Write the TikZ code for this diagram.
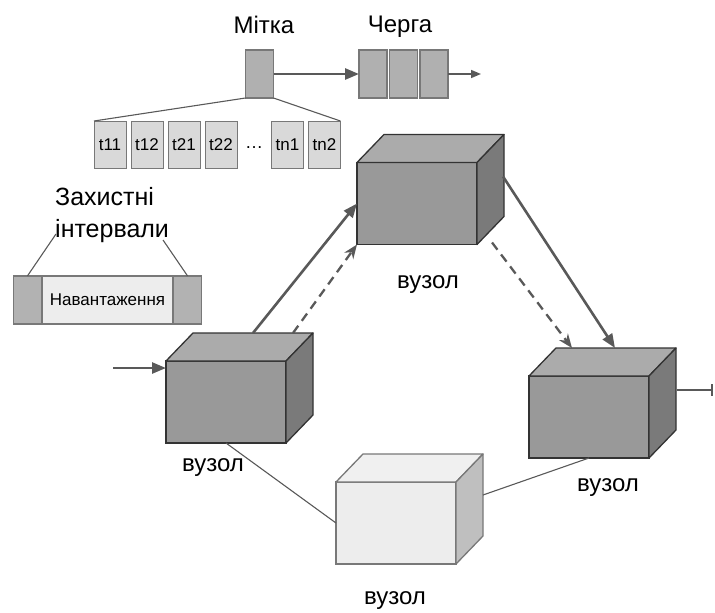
\documentclass[tikz,border=0pt]{standalone}
\usepackage{fontspec}
\setmainfont{Liberation Sans}
\usetikzlibrary{positioning,calc,arrows.meta}

% top and side faces of a box whose front face is the node #1
\newcommand{\boxfaces}[4]{%
  \draw[draw=#4, line width=1.3pt, line join=round, fill=#2] (#1.north west) -- ++(27,-28) -- ++(120,0) -- (#1.north east) -- cycle;
  \draw[draw=#4, line width=1.3pt, line join=round, fill=#3] (#1.north east) -- ++(27,-28) -- ++(0,82) -- (#1.south east) -- cycle;
}

\begin{document}
\begin{tikzpicture}[x=1pt, y=-1pt,
    lbl/.style={font=\fontsize{24}{28}\selectfont, inner sep=0, anchor=base},
    cube/.style={draw=black!80, fill=black!40, line width=1.3pt, minimum width=120pt, minimum height=82pt, inner sep=0, outer sep=0},
    litecube/.style={cube, draw=black!53, fill=black!7},
    cell/.style={draw=black!53, fill=black!31, line width=1.2pt, minimum width=28pt, minimum height=48pt, inner sep=0, outer sep=0},
    slot/.style={draw=black!53, fill=black!15, line width=1pt, minimum width=32pt, minimum height=47pt, inner sep=0, outer sep=0, font=\fontsize{17}{19}\selectfont},
    flow/.style={draw=black!65, line width=2.6pt, -{Triangle[length=14pt,width=11pt]}},
    alt/.style={flow, line width=2.3pt, dash pattern=on 9pt off 6pt, -{Stealth[length=14pt,width=11pt]}},
    link/.style={draw=black!65, line width=1.1pt}]
  \useasboundingbox (0,0) rectangle (715,613);

  % tag and queue
  \node[lbl] (taglbl) at (264,33) {Мітка};
  \node[lbl] (quelbl) at (400,32) {Черга};
  \node[cell] (tag) at (259.5,74) {};
  \node[cell] (q1) at (373,74) {};
  \node[cell, right=2.5pt of q1] (q2) {};
  \node[cell, right=2.5pt of q2] (q3) {};
  \coordinate (qout) at (481,74);
  \draw[flow] (tag) -- (q1);
  \draw[draw=black!65, line width=1.5pt, -{Triangle[length=10pt,width=8pt]}] (q3) -- (qout);

  % time slots
  \node[slot] (t11) at (110,144.5) {t11};
  \node[slot, right=5pt of t11] (t12) {t12};
  \node[slot, right=5pt of t12] (t21) {t21};
  \node[slot, right=5pt of t21] (t22) {t22};
  \node[font=\fontsize{18}{20}\selectfont, inner sep=0, minimum width=24pt, right=5pt of t22, yshift=-3pt] (dots) {\dots};
  \node[slot, right=5pt of dots, yshift=3pt] (tn1) {tn1};
  \node[slot, right=5pt of tn1] (tn2) {tn2};
  \draw[link] (tag.south west) -- (t11.north west);
  \draw[link] (tag.south east) -- (tn2.north east);

  % guard intervals and payload
  \node[font=\fontsize{25}{32}\selectfont, align=left, inner sep=0, anchor=base west] (guardlbl) at (55,237) {Захистні\\інтервали};
  \node[draw=black!53, fill=black!7, line width=1.2pt, minimum width=131pt, minimum height=48pt, inner sep=0, font=\fontsize{17}{20}\selectfont] (load) at (107.5,300) {Навантаження};
  \node[cell, fill=black!30, left=0pt of load] (g1) {};
  \node[cell, fill=black!30, right=0pt of load] (g2) {};
  \coordinate (gl) at (56,234);
  \coordinate (gr) at (163,240);
  \draw[link] (g1.north) -- (gl);
  \draw[link] (g2.north) -- (gr);

  % nodes
  \node[cube] (n1) at (226,402) {};
  \boxfaces{n1}{black!33}{black!52}{black!80}
  \node[cube] (n2) at (417,203.5) {};
  \boxfaces{n2}{black!33}{black!52}{black!80}
  \node[cube] (n3) at (589,417) {};
  \boxfaces{n3}{black!33}{black!52}{black!80}
  \node[litecube] (n4) at (396,523) {};
  \boxfaces{n4}{black!6}{black!25}{black!53}

  \node[lbl] (l1) at (213,471) {вузол};
  \node[lbl] (l2) at (428,288) {вузол};
  \node[lbl] (l3) at (608,491) {вузол};
  \node[lbl] (l4) at (395,604) {вузол};

  % links between nodes
  \coordinate (in) at (113,368);
  \coordinate (out) at (713,390);
  \draw[flow] (in) -- ($(n1.north west)+(0,7)$);
  \draw[flow] ($(n1.north west)+(87,-28)$) -- (n2.west);
  \draw[alt] ($(n1.north west)+(127,-28)$) -- (n2.south west);
  \draw[flow] ($(n2.north east)+(26,14)$) -- ($(n3.north west)+(86,-28)$);
  \draw[alt] ($(n2.south east)+(15,-2)$) -- ($(n3.north west)+(43,-28)$);
  \draw[draw=black!65, line width=2pt, -{Bar[width=12pt,line width=2pt]}] ($(n3.north east)+(28,14)$) -- (out);
  \draw[link] (n1.south) -- (n4.west);
  \draw[link] ($(n4.north east)+(27,13)$) -- (n3.south);
\end{tikzpicture}
\end{document}
